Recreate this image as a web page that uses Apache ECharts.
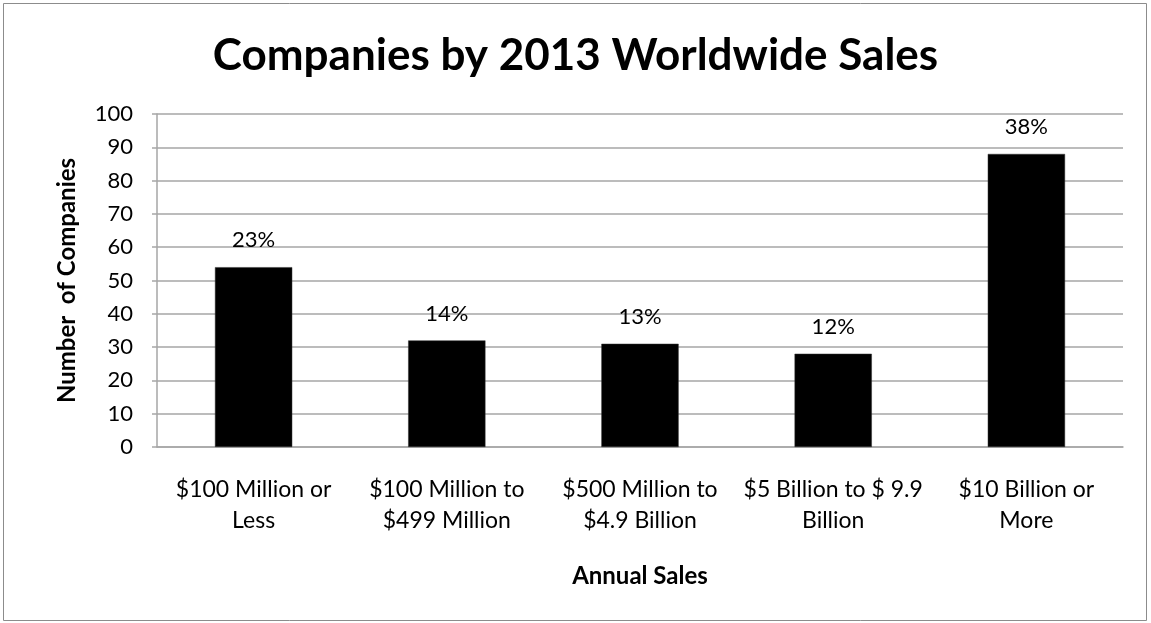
<!DOCTYPE html>
<html>
<head>
<meta charset="utf-8">
<script src="https://cdn.jsdelivr.net/npm/echarts@6/dist/echarts.min.js"></script>
<style>
  html, body { margin: 0; padding: 0; background: #fff; }
  #chart { width: 1151px; height: 623px; }
</style>
</head>
<body>
<div id="chart"></div>
<script>
// Sales brackets (x-axis categories)
const categories = [
  '$100 Million or\nLess',
  '$100 Million to\n$499 Million',
  '$500 Million to\n$4.9 Billion',
  '$5 Billion to $ 9.9\nBillion',
  '$10 Billion or\nMore'
];
// Number of companies in each bracket
const companyCounts = [54, 32, 31, 28, 88];
// Y-axis range and step
const yMin = 0;
const yMax = 100;
const yStep = 10;

const total = companyCounts.reduce((a, b) => a + b, 0);
const FONT = 'Lato, "Open Sans", sans-serif';

const chart = echarts.init(document.getElementById('chart'));
chart.setOption({
  backgroundColor: '#fff',
  animation: false,
  title: {
    text: 'Companies by 2013 Worldwide Sales',
    left: 'center',
    top: 29,
    textStyle: { fontFamily: FONT, fontSize: 44, fontWeight: 'bold', color: '#000' }
  },
  graphic: [{
    type: 'rect',
    shape: { x: 3.5, y: 3.5, width: 1143, height: 617 },
    style: { fill: 'none', stroke: '#8c8c8c', lineWidth: 1 },
    silent: true
  }],
  grid: { left: 157, right: 28, top: 114, bottom: 176 },
  xAxis: {
    type: 'category',
    data: categories,
    name: 'Annual Sales',
    nameLocation: 'middle',
    nameGap: 117,
    nameTextStyle: { fontFamily: FONT, fontSize: 24, fontWeight: 'bold', color: '#000' },
    axisLine: { lineStyle: { color: '#a6a6a6', width: 1.5 } },
    axisTick: { show: false },
    axisLabel: {
      interval: 0,
      margin: 27,
      fontFamily: FONT,
      fontSize: 23,
      lineHeight: 31,
      color: '#000'
    }
  },
  yAxis: {
    type: 'value',
    min: yMin,
    max: yMax,
    interval: yStep,
    name: 'Number  of Companies',
    nameLocation: 'middle',
    nameGap: 78,
    nameTextStyle: { fontFamily: FONT, fontSize: 24, fontWeight: 'bold', color: '#000' },
    axisLine: { show: true, lineStyle: { color: '#a6a6a6', width: 1.5 } },
    axisTick: { show: true, length: 5, lineStyle: { color: '#a6a6a6', width: 1.5 } },
    splitLine: { lineStyle: { color: '#a6a6a6', width: 1.5 } },
    axisLabel: { margin: 24, fontFamily: FONT, fontSize: 22, color: '#000' }
  },
  series: [{
    type: 'bar',
    data: companyCounts,
    barWidth: '40%',
    itemStyle: { color: '#000', borderColor: '#333', borderWidth: 0.5 },
    label: {
      show: true,
      position: 'top',
      distance: 16,
      fontFamily: FONT,
      fontSize: 22,
      color: '#000',
      formatter: p => Math.round(p.value / total * 100) + '%'
    }
  }]
});
</script>
</body>
</html>
